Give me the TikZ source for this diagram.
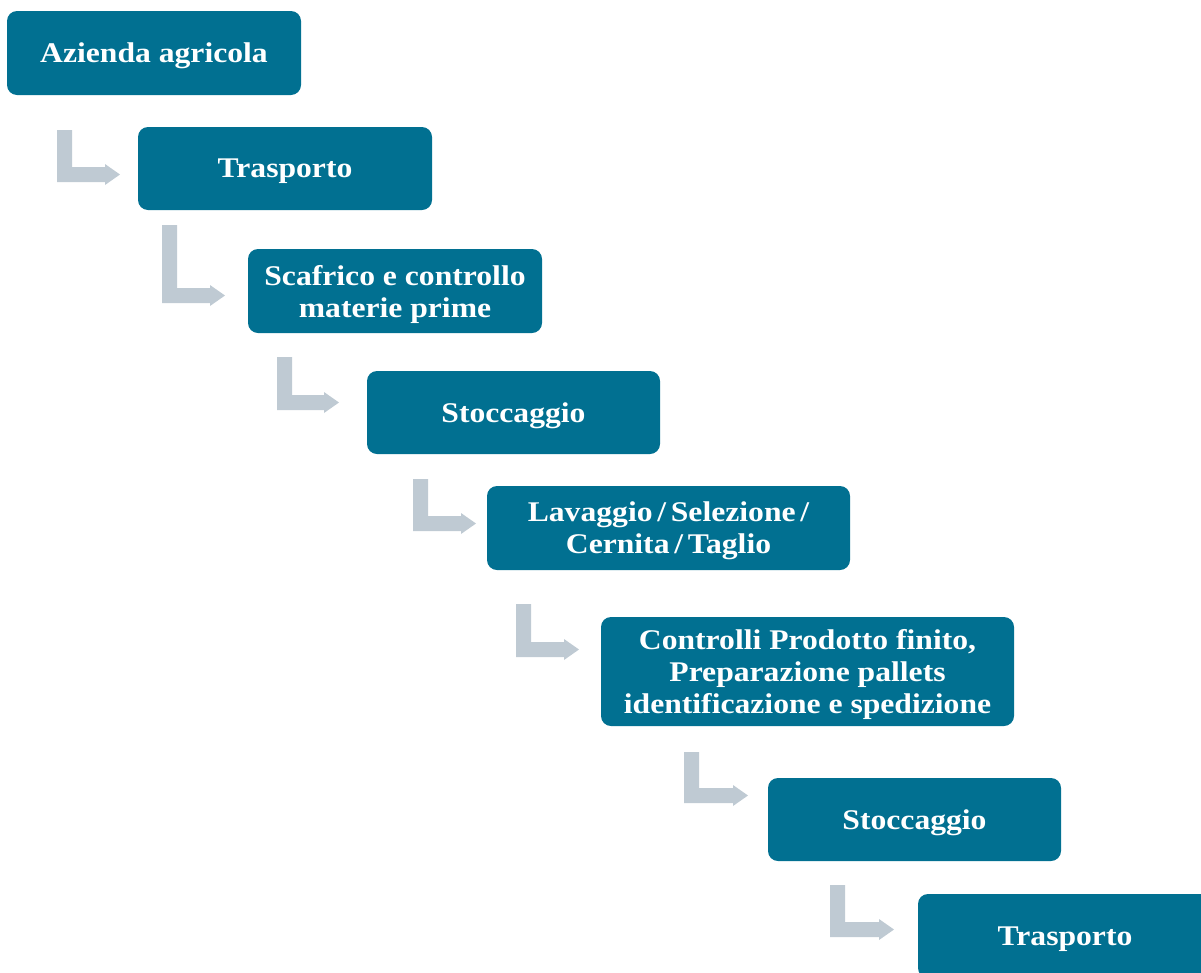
\documentclass[tikz,border=0pt]{standalone}
\usepackage{fontspec}
\setmainfont{Liberation Serif}[FakeStretch=1.11]
\definecolor{boxteal}{RGB}{1,112,145}
\definecolor{arrowgray}{RGB}{191,202,211}
\tikzset{
  stepbox/.style={fill=boxteal, rounded corners=10pt, inner sep=0pt,
    minimum height=84pt},
  steptext/.style={text=white, font=\fontsize{28.5}{32}\selectfont\bfseries,
    align=center, inner sep=0pt, yshift=-3pt},
}
\newcommand\bentarr[4]{% x, top, bottom, tip
  \fill[arrowgray] (#1,#2) -- (#1+15,#2) -- (#1+15,#3-15) -- (#4-15,#3-15) -- (#4-15,#3-18)
    -- (#4,#3-7.5) -- (#4-15,#3+3) -- (#4-15,#3) -- (#1,#3) -- cycle;}
\begin{document}
\begin{tikzpicture}[x=1pt,y=-1pt]
\useasboundingbox (0,0) rectangle (1201,972);
\clip (0,0) rectangle (1201,972);
\node[stepbox, minimum width=294pt, label={[steptext]center:{Azienda agricola}}] (n1) at (154,53) {};
\node[stepbox, minimum width=294pt, minimum height=83pt, label={[steptext]center:{Trasporto}}] (n2) at (285,168.5) {};
\node[stepbox, minimum width=294pt, label={[steptext]center:{Scafrico e controllo\\materie prime}}] (n3) at (395,291) {};
\node[stepbox, minimum width=293pt, minimum height=83pt, label={[steptext]center:{Stoccaggio}}] (n4) at (513.5,412.5) {};
\node[stepbox, minimum width=363pt, label={[steptext]center:{Lavaggio\,/\,Selezione\,/\\Cernita\,/\,Taglio}}] (n5) at (668.5,528) {};
\node[stepbox, minimum width=413pt, minimum height=109pt, label={[steptext]center:{Controlli Prodotto finito,\\Preparazione pallets\\identificazione e spedizione}}] (n6) at (807.5,671.5) {};
\node[stepbox, minimum width=293pt, minimum height=83pt, label={[steptext]center:{Stoccaggio}}] (n7) at (914.5,819.5) {};
\node[stepbox, minimum width=294pt, label={[steptext]center:{Trasporto}}] (n8) at (1065,936) {};
\bentarr{57}{130}{182}{120}
\bentarr{162}{225}{303}{225}
\bentarr{277}{357}{410}{339}
\bentarr{413}{479}{531}{476}
\bentarr{516}{604}{657}{579}
\bentarr{684}{752}{803}{748}
\bentarr{830}{885}{937}{894}
\end{tikzpicture}
\end{document}
